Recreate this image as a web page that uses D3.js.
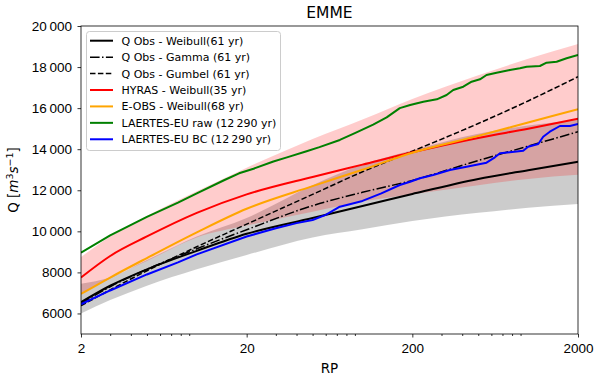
<!DOCTYPE html>
<html>
<head>
<meta charset="utf-8">
<script src="https://cdn.jsdelivr.net/npm/d3@7"></script>
<style>
  body { margin: 0; background: #fff; }
  svg { font-family: "DejaVu Sans", sans-serif; }
  .axis path { display: none; }
  .axis line { stroke: #000; stroke-width: 0.8; }
  .axis text { fill: #000; font-size: 13.5px; }
</style>
</head>
<body>
<div id="chart"></div>
<script>
// return periods shared by the smooth curves and the bands
const rpGrid = [2, 3, 5, 10, 20, 50, 100, 200, 500, 1000, 2000];

const obsWeibull = [6550, 7350, 8150, 9050, 9880, 10650, 11230, 11820, 12550, 12980, 13390];
const obsGamma   = [6480, 7300, 8150, 9150, 10080, 11250, 11900, 12480, 13450, 14150, 14850];
const obsGumbel  = [6380, 7150, 8080, 9250, 10350, 11800, 12900, 13900, 15250, 16350, 17530];
const hyras      = [7750, 8800, 9750, 10900, 11800, 12650, 13250, 13850, 14550, 15000, 15480];
const eobs       = [6950, 7750, 8700, 9950, 11100, 12200, 13000, 13830, 14650, 15300, 15950];

// uncertainty bands
const rawUpper = [8750, 9750, 10750, 11950, 13100, 14500, 15450, 16450, 17600, 18400, 19120];
const rawLower = [6950, 7700, 8550, 9700, 10280, 10950, 11450, 11800, 12250, 12550, 12750];
const bcUpper  = [7450, 7750, 8600, 9750, 10650, 12250, 13250, 13950, 14750, 15150, 15450];
const bcLower  = [6000, 6650, 7350, 8150, 8850, 9700, 10100, 10500, 10900, 11150, 11330];

// the long LAERTES series are jagged, so they keep their own points
const rawRp = [2, 3, 5, 7.7, 10, 14.7, 18, 22, 29, 35, 46, 55, 73, 90, 116, 140, 168, 194, 233, 281,
               322, 353, 406, 456, 512, 561, 645, 776, 892, 980, 1178, 1292, 1486, 1707, 2000];
const laertesRaw = [8960, 9800, 10700, 11395, 11850, 12500, 12826, 13050, 13400, 13600, 13900, 14100,
                    14450, 14780, 15200, 15550, 16000, 16153, 16314, 16430, 16640, 16883, 17045, 17287,
                    17404, 17614, 17726, 17857, 17940, 18018, 18052, 18213, 18261, 18427, 18588];

const bcRp = [2, 3, 5, 7.7, 10, 20, 30, 40, 50, 60, 73, 85, 100, 130, 168, 194, 222, 267, 337, 425,
              561, 630, 676, 776, 934, 1000, 1151, 1233, 1352, 1556, 1787, 2000];
const laertesBc = [6450, 7120, 7900, 8490, 8880, 9750, 10150, 10400, 10550, 10800, 11200, 11330, 11480,
                   11850, 12257, 12418, 12583, 12744, 12987, 13148, 13343, 13606, 13800, 13849, 13927,
                   14122, 14253, 14609, 14853, 15130, 15130, 15227];

const xMajor = [2, 20, 200, 2000];
const xMinor = [3, 4, 5, 6, 7, 8, 9, 30, 40, 50, 60, 70, 80, 90, 300, 400, 500, 600, 700, 800, 900];
const yTicks = [6000, 8000, 10000, 12000, 14000, 16000, 18000, 20000];

const series = [
  { label: "Q Obs - Weibull(61 yr)", rp: rpGrid, q: obsWeibull, color: "#000", dash: null, w: 2 },
  { label: "Q Obs - Gamma (61 yr)", rp: rpGrid, q: obsGamma, color: "#000", dash: "9.6,2.4,1.5,2.4", w: 1.5 },
  { label: "Q Obs - Gumbel (61 yr)", rp: rpGrid, q: obsGumbel, color: "#000", dash: "5.5,2.4", w: 1.5 },
  { label: "HYRAS - Weibull(35 yr)", rp: rpGrid, q: hyras, color: "#ff0000", dash: null, w: 2 },
  { label: "E-OBS - Weibull(68 yr)", rp: rpGrid, q: eobs, color: "#ffa500", dash: null, w: 2 },
  { label: "LAERTES-EU raw (12\u2009290 yr)", rp: rawRp, q: laertesRaw, color: "#008000", dash: null, w: 2, jag: true },
  { label: "LAERTES-EU BC (12\u2009290 yr)", rp: bcRp, q: laertesBc, color: "#0000ff", dash: null, w: 2, jag: true }
];

const width = 600, height = 378;
const margin = { top: 26, right: 22, bottom: 44, left: 81 };

const svg = d3.select("#chart").append("svg")
  .attr("width", width)
  .attr("height", height);

const x = d3.scaleLog()
  .domain([2, 2000])
  .range([margin.left, width - margin.right]);

const y = d3.scaleLinear()
  .domain([5000, 20000])
  .range([height - margin.bottom, margin.top]);

svg.append("clipPath").attr("id", "plot")
  .append("rect")
  .attr("x", margin.left).attr("y", margin.top)
  .attr("width", width - margin.left - margin.right)
  .attr("height", height - margin.top - margin.bottom);

const plot = svg.append("g").attr("clip-path", "url(#plot)");

const band = (upper, lower) => d3.area()
  .x((d, i) => x(rpGrid[i]))
  .y0((d, i) => y(lower[i]))
  .y1((d, i) => y(upper[i]))
  .curve(d3.curveMonotoneX)(rpGrid);

// gray band first, red band on top gives the brownish overlap
plot.append("path").attr("d", band(bcUpper, bcLower))
  .attr("fill", "rgb(128,128,128)").attr("fill-opacity", 0.4);
plot.append("path").attr("d", band(rawUpper, rawLower))
  .attr("fill", "rgb(255,0,0)").attr("fill-opacity", 0.2);

series.forEach(s => {
  const line = d3.line()
    .x((d, i) => x(s.rp[i]))
    .y(d => y(d))
    .curve(s.jag ? d3.curveLinear : d3.curveMonotoneX);
  plot.append("path")
    .attr("d", line(s.q))
    .attr("fill", "none")
    .attr("stroke", s.color)
    .attr("stroke-width", s.w)
    .attr("stroke-dasharray", s.dash)
    .attr("stroke-linejoin", "round");
});

// axes
const yFmt = v => v >= 10000 ? d3.format(",")(v).replace(",", "\u2009") : String(v);

svg.append("g")
  .attr("class", "axis")
  .attr("transform", `translate(${margin.left},0)`)
  .call(d3.axisLeft(y).tickValues(yTicks).tickFormat(yFmt).tickSize(3.5).tickPadding(5.5));

svg.append("g")
  .attr("class", "axis")
  .attr("transform", `translate(0,${height - margin.bottom})`)
  .call(d3.axisBottom(x).tickValues(xMajor).tickFormat(d3.format("d")).tickSize(3.5).tickPadding(5.5));

svg.append("g")
  .attr("class", "axis")
  .attr("transform", `translate(0,${height - margin.bottom})`)
  .call(d3.axisBottom(x).tickValues(xMinor).tickFormat("").tickSize(2));

// frame
svg.append("rect")
  .attr("x", margin.left).attr("y", margin.top)
  .attr("width", width - margin.left - margin.right)
  .attr("height", height - margin.top - margin.bottom)
  .attr("fill", "none").attr("stroke", "#000").attr("stroke-width", 0.8);

// title and labels
svg.append("text")
  .attr("x", (margin.left + width - margin.right) / 2).attr("y", 17.5)
  .attr("text-anchor", "middle").attr("font-size", "15.5px")
  .text("EMME");

svg.append("text")
  .attr("x", (margin.left + width - margin.right) / 2).attr("y", 373)
  .attr("text-anchor", "middle").attr("font-size", "13.5px")
  .text("RP");

const yl = svg.append("text")
  .attr("transform", `translate(18,${(margin.top + height - margin.bottom) / 2}) rotate(-90)`)
  .attr("text-anchor", "middle").attr("font-size", "13.5px");
yl.append("tspan").text("Q [");
yl.append("tspan").attr("font-style", "italic").text("m");
yl.append("tspan").attr("font-size", "9.5px").attr("dy", "-5").text("3");
yl.append("tspan").attr("font-style", "italic").attr("dy", "5").text("s");
yl.append("tspan").attr("font-size", "9.5px").attr("dy", "-5").text("\u22121");
yl.append("tspan").attr("dy", "5").text("]");

// legend
const legend = svg.append("g");
legend.append("rect")
  .attr("x", 86.5).attr("y", 31.5).attr("width", 194).attr("height", 119).attr("rx", 3)
  .attr("fill", "#fff").attr("fill-opacity", 0.8)
  .attr("stroke", "#cccccc").attr("stroke-width", 1);

series.forEach((s, i) => {
  const yy = 40.7 + i * 16.43;
  legend.append("line")
    .attr("x1", 90).attr("x2", 113).attr("y1", yy).attr("y2", yy)
    .attr("stroke", s.color).attr("stroke-width", s.w)
    .attr("stroke-dasharray", s.dash);
  legend.append("text")
    .attr("x", 121.5).attr("y", yy).attr("dy", "0.36em")
    .attr("font-size", "11px")
    .text(s.label);
});
</script>
</body>
</html>
